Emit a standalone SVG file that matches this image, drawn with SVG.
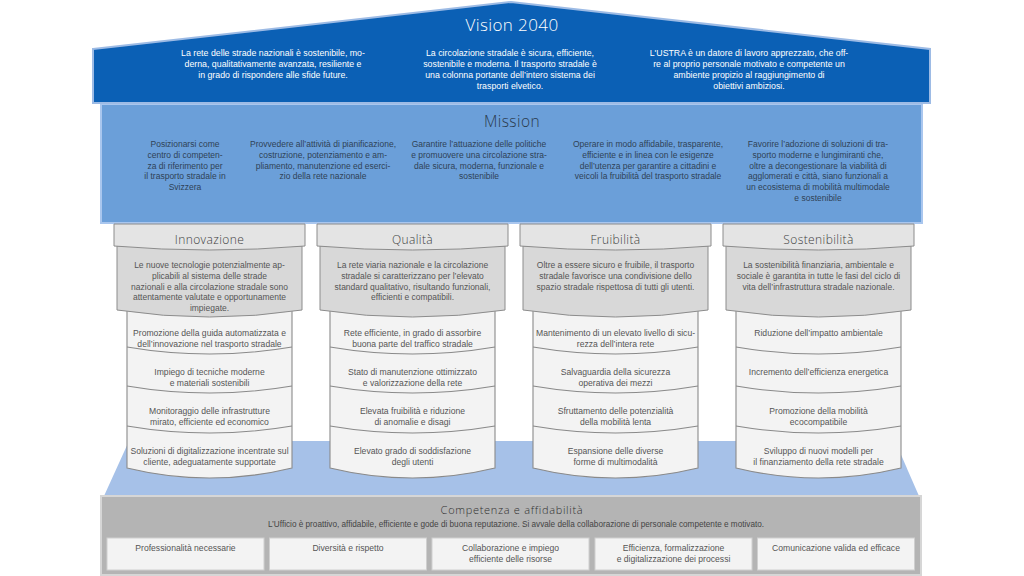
<svg xmlns="http://www.w3.org/2000/svg" width="1024" height="576" viewBox="0 0 1024 576">
<style>
text{font-family:"Liberation Sans",Arial,sans-serif;text-anchor:middle}
.hd{font-family:"Open Sans","Liberation Sans",Arial,sans-serif;font-weight:300}
.vt{fill:#ffffff;font-size:8.8px}
.mt{fill:#2f4256;font-size:8.5px}
.pt{fill:#555555;font-size:8.5px}
.dt{fill:#555555;font-size:8.6px}
.bt{fill:#555555;font-size:8.6px}
.ph{fill:#404040;font-size:12px;letter-spacing:0.4px}
.band{fill:#e4e4e4;stroke:#8c8c8c;stroke-width:1}
.cap{fill:#d8d8d8;stroke:#8c8c8c;stroke-width:1}
.drum{fill:#f3f3f3;stroke:#8a8a8a;stroke-width:1.1}
.sep{fill:none;stroke:#8a8a8a;stroke-width:1.1}
.vb{fill:#f3f3f3;stroke:#cfcfcf;stroke-width:1}
</style>
<defs>
<g id="pillarShape">
<path class="drum" d="M-82.5,308 V468 Q0,488 82.5,468 V308 Z"/>
<path class="sep" d="M-82.5,347 Q0,361 82.5,347"/>
<path class="sep" d="M-82.5,386 Q0,400 82.5,386"/>
<path class="sep" d="M-82.5,426 Q0,440 82.5,426"/>
<path class="cap" d="M-92.5,246 V310 Q0,324 92.5,310 V246 Z"/>
<path class="band" d="M-95.5,224 V246 Q0,254 95.5,246 V224 Z"/>
</g>
</defs>

<g id="platform">
<polygon points="129,441 895,441 919,496 104,496" fill="#a6c1e8"/>
</g>

<g id="mission">
<rect x="101" y="104" width="821" height="119" fill="#6b9fd9" stroke="#a9c6ee" stroke-width="2"/>
<text class="hd" x="512" y="127" fill="#2a3a4c" font-size="15.5" letter-spacing="0.4">Mission</text>
<text class="mt" x="185" y="147">Posizionarsi come</text>
<text class="mt" x="185" y="157.8">centro di competen-</text>
<text class="mt" x="185" y="168.6">za di riferimento per</text>
<text class="mt" x="185" y="179.4">il trasporto stradale in</text>
<text class="mt" x="185" y="190.2">Svizzera</text>
<text class="mt" x="323" y="147">Provvedere all’attività di pianificazione,</text>
<text class="mt" x="323" y="157.8">costruzione, potenziamento e am-</text>
<text class="mt" x="323" y="168.6">pliamento, manutenzione ed eserci-</text>
<text class="mt" x="323" y="179.4">zio della rete nazionale</text>
<text class="mt" x="479" y="147">Garantire l’attuazione delle politiche</text>
<text class="mt" x="479" y="157.8">e promuovere una circolazione stra-</text>
<text class="mt" x="479" y="168.6">dale sicura, moderna, funzionale e</text>
<text class="mt" x="479" y="179.4">sostenibile</text>
<text class="mt" x="648" y="147">Operare in modo affidabile, trasparente,</text>
<text class="mt" x="648" y="157.8">efficiente e in linea con le esigenze</text>
<text class="mt" x="648" y="168.6">dell’utenza per garantire a cittadini e</text>
<text class="mt" x="648" y="179.4">veicoli la fruibilità del trasporto stradale</text>
<text class="mt" x="818" y="147">Favorire l’adozione di soluzioni di tra-</text>
<text class="mt" x="818" y="157.8">sporto moderne e lungimiranti che,</text>
<text class="mt" x="818" y="168.6">oltre a decongestionare la viabilità di</text>
<text class="mt" x="818" y="179.4">agglomerati e città, siano funzionali a</text>
<text class="mt" x="818" y="190.2">un ecosistema di mobilità multimodale</text>
<text class="mt" x="818" y="201">e sostenibile</text>
</g>

<g id="vision">
<polygon points="93,49 511,2 930,49 930,103 93,103" fill="#0b60b5" stroke="#9dbbe5" stroke-width="2" stroke-linejoin="miter"/>
<text class="hd" x="512" y="31" fill="#ffffff" font-size="17" letter-spacing="0.4">Vision 2040</text>
<text class="vt" x="273" y="56">La rete delle strade nazionali è sostenibile, mo-</text>
<text class="vt" x="273" y="67">derna, qualitativamente avanzata, resiliente e</text>
<text class="vt" x="273" y="78">in grado di rispondere alle sfide future.</text>
<text class="vt" x="510" y="56">La circolazione stradale è sicura, efficiente,</text>
<text class="vt" x="510" y="67">sostenibile e moderna. Il trasporto stradale è</text>
<text class="vt" x="510" y="78">una colonna portante dell’intero sistema dei</text>
<text class="vt" x="510" y="89">trasporti elvetico.</text>
<text class="vt" x="749" y="56">L'USTRA è un datore di lavoro apprezzato, che off-</text>
<text class="vt" x="749" y="67">re al proprio personale motivato e competente un</text>
<text class="vt" x="749" y="78">ambiente propizio al raggiungimento di</text>
<text class="vt" x="749" y="89">obiettivi ambiziosi.</text>
</g>

<g id="pillar-innovazione" transform="translate(209.5,0)">
<use href="#pillarShape"/>
<text class="ph hd" x="0" y="243.5">Innovazione</text>
<text class="pt" x="0" y="268">Le nuove tecnologie potenzialmente ap-</text>
<text class="pt" x="0" y="278.8">plicabili al sistema delle strade</text>
<text class="pt" x="0" y="289.6">nazionali e alla circolazione stradale sono</text>
<text class="pt" x="0" y="300.4">attentamente valutate e opportunamente</text>
<text class="pt" x="0" y="311.2">impiegate.</text>
<text class="dt" x="0" y="336">Promozione della guida automatizzata e</text>
<text class="dt" x="0" y="347">dell’innovazione nel trasporto stradale</text>
<text class="dt" x="0" y="374.5">Impiego di tecniche moderne</text>
<text class="dt" x="0" y="385.5">e materiali sostenibili</text>
<text class="dt" x="0" y="414">Monitoraggio delle infrastrutture</text>
<text class="dt" x="0" y="425">mirato, efficiente ed economico</text>
<text class="dt" x="0" y="453.5">Soluzioni di digitalizzazione incentrate sul</text>
<text class="dt" x="0" y="464.5">cliente, adeguatamente supportate</text>
</g>

<g id="pillar-qualita" transform="translate(412.5,0)">
<use href="#pillarShape"/>
<text class="ph hd" x="0" y="243.5">Qualità</text>
<text class="pt" x="0" y="268">La rete viaria nazionale e la circolazione</text>
<text class="pt" x="0" y="278.8">stradale si caratterizzano per l’elevato</text>
<text class="pt" x="0" y="289.6">standard qualitativo, risultando funzionali,</text>
<text class="pt" x="0" y="300.4">efficienti e compatibili.</text>
<text class="dt" x="0" y="336">Rete efficiente, in grado di assorbire</text>
<text class="dt" x="0" y="347">buona parte del traffico stradale</text>
<text class="dt" x="0" y="374.5">Stato di manutenzione ottimizzato</text>
<text class="dt" x="0" y="385.5">e valorizzazione della rete</text>
<text class="dt" x="0" y="414">Elevata fruibilità e riduzione</text>
<text class="dt" x="0" y="425">di anomalie e disagi</text>
<text class="dt" x="0" y="453.5">Elevato grado di soddisfazione</text>
<text class="dt" x="0" y="464.5">degli utenti</text>
</g>

<g id="pillar-fruibilita" transform="translate(615.5,0)">
<use href="#pillarShape"/>
<text class="ph hd" x="0" y="243.5">Fruibilità</text>
<text class="pt" x="0" y="268">Oltre a essere sicuro e fruibile, il trasporto</text>
<text class="pt" x="0" y="278.8">stradale favorisce una condivisione dello</text>
<text class="pt" x="0" y="289.6">spazio stradale rispettosa di tutti gli utenti.</text>
<text class="dt" x="0" y="336">Mantenimento di un elevato livello di sicu-</text>
<text class="dt" x="0" y="347">rezza dell’intera rete</text>
<text class="dt" x="0" y="374.5">Salvaguardia della sicurezza</text>
<text class="dt" x="0" y="385.5">operativa dei mezzi</text>
<text class="dt" x="0" y="414">Sfruttamento delle potenzialità</text>
<text class="dt" x="0" y="425">della mobilità lenta</text>
<text class="dt" x="0" y="453.5">Espansione delle diverse</text>
<text class="dt" x="0" y="464.5">forme di multimodalità</text>
</g>

<g id="pillar-sostenibilita" transform="translate(818.5,0)">
<use href="#pillarShape"/>
<text class="ph hd" x="0" y="243.5">Sostenibilità</text>
<text class="pt" x="0" y="268">La sostenibilità finanziaria, ambientale e</text>
<text class="pt" x="0" y="278.8">sociale è garantita in tutte le fasi del ciclo di</text>
<text class="pt" x="0" y="289.6">vita dell’infrastruttura stradale nazionale.</text>
<text class="dt" x="0" y="336">Riduzione dell’impatto ambientale</text>
<text class="dt" x="0" y="374.5">Incremento dell’efficienza energetica</text>
<text class="dt" x="0" y="414">Promozione della mobilità</text>
<text class="dt" x="0" y="425">ecocompatibile</text>
<text class="dt" x="0" y="453.5">Sviluppo di nuovi modelli per</text>
<text class="dt" x="0" y="464.5">il finanziamento della rete stradale</text>
</g>

<g id="base">
<rect x="101" y="496" width="820" height="79" fill="#b4b4b4" stroke="#d6d6d6" stroke-width="2"/>
<text class="hd" x="512" y="514" fill="#303030" font-size="11" letter-spacing="0.7">Competenza e affidabilità</text>
<text x="516" y="527" fill="#444444" font-size="8.2">L’Ufficio è proattivo, affidabile, efficiente e gode di buona reputazione. Si avvale della collaborazione di personale competente e motivato.</text>
</g>

<g id="value-1">
<rect class="vb" x="107" y="538" width="157" height="32"/>
<text class="bt" x="185.5" y="551">Professionalità necessarie</text>
</g>
<g id="value-2">
<rect class="vb" x="269.5" y="538" width="157" height="32"/>
<text class="bt" x="348" y="551">Diversità e rispetto</text>
</g>
<g id="value-3">
<rect class="vb" x="432" y="538" width="157" height="32"/>
<text class="bt" x="510.5" y="551">Collaborazione e impiego</text>
<text class="bt" x="510.5" y="562">efficiente delle risorse</text>
</g>
<g id="value-4">
<rect class="vb" x="595" y="538" width="157" height="32"/>
<text class="bt" x="673.5" y="551">Efficienza, formalizzazione</text>
<text class="bt" x="673.5" y="562">e digitalizzazione dei processi</text>
</g>
<g id="value-5">
<rect class="vb" x="757.5" y="538" width="157" height="32"/>
<text class="bt" x="836" y="551">Comunicazione valida ed efficace</text>
</g>
</svg>
